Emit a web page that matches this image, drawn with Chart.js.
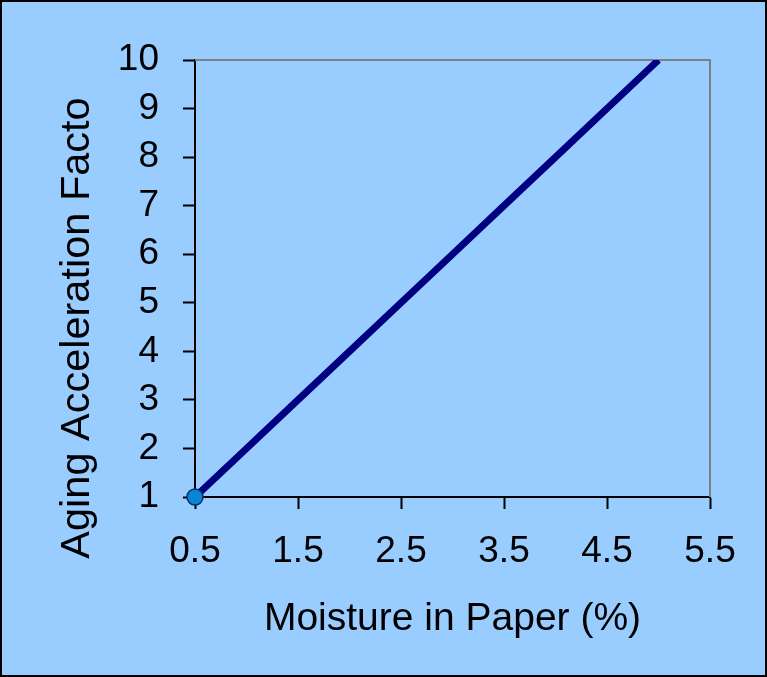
<!DOCTYPE html>
<html>
<head>
<meta charset="utf-8">
<script src="https://cdn.jsdelivr.net/npm/chart.js@4"></script>
<style>
  html, body { margin: 0; padding: 0; background: #99ccff; }
  #wrap {
    width: 767px; height: 677px; box-sizing: border-box;
    border: 2px solid #000; background: #99ccff; position: relative;
  }
  canvas { display: block; }
</style>
</head>
<body>
<div id="wrap"><canvas id="chart" width="763" height="673"></canvas></div>
<script>
const moisture = [0.5, 1, 1.5, 2, 2.5, 3, 3.5, 4, 4.5, 5]
const agingFactor = [1, 2, 3, 4, 5, 6, 7, 8, 9, 10]
const xTitle = 'Moisture in Paper (%)'
const yTitle = 'Aging Acceleration Facto'

const FONT = '"Liberation Sans", Arial, sans-serif'

// only the first sample gets a marker
const markerSizes = moisture.map((_, i) => (i === 0 ? 8 : 0))

const frameAndTitle = {
  id: 'frameAndTitle',
  beforeDatasetsDraw(chart) {
    const { ctx, chartArea } = chart
    ctx.save()
    ctx.strokeStyle = '#808080'
    ctx.lineWidth = 2
    ctx.beginPath()
    ctx.moveTo(chartArea.left, chartArea.top)
    ctx.lineTo(chartArea.right, chartArea.top)
    ctx.lineTo(chartArea.right, chartArea.bottom)
    ctx.stroke()
    ctx.restore()
  },
  afterDraw(chart) {
    const { ctx } = chart
    ctx.save()
    ctx.translate(76, 326)
    ctx.rotate(-Math.PI / 2)
    ctx.font = `41.5px ${FONT}`
    ctx.fillStyle = '#000'
    ctx.textAlign = 'center'
    ctx.textBaseline = 'middle'
    ctx.fillText(yTitle, 0, 0)
    ctx.restore()
  },
}

const ctx = document.getElementById('chart').getContext('2d')
new Chart(ctx, {
  type: 'scatter',
  data: {
    datasets: [
      {
        data: moisture.map((x, i) => ({ x, y: agingFactor[i] })),
        showLine: true,
        clip: { left: 12, bottom: 12, top: 0, right: 0 },
        borderColor: '#000080',
        borderWidth: 7,
        pointRadius: markerSizes,
        pointHoverRadius: markerSizes,
        pointBackgroundColor: '#0a84d4',
        pointBorderColor: '#00306a',
        pointBorderWidth: 1.5,
        tension: 0,
      },
    ],
  },
  options: {
    responsive: false,
    animation: false,
    layout: { padding: { top: 58, right: 55, left: 0, bottom: 0 } },
    plugins: {
      legend: { display: false },
      tooltip: { enabled: false },
    },
    scales: {
      x: {
        type: 'linear',
        min: 0.5,
        max: 5.5,
        ticks: {
          stepSize: 1,
          color: '#000',
          padding: 21,
          font: { family: FONT, size: 37 },
          maxRotation: 0,
          callback: (v) => v.toFixed(1),
        },
        grid: {
          drawOnChartArea: false,
          drawTicks: true,
          tickLength: 12,
          tickColor: '#000',
          tickWidth: 2,
        },
        border: { color: '#000', width: 2 },
        title: {
          display: true,
          text: xTitle,
          color: '#000',
          font: { family: FONT, size: 39, lineHeight: 1 },
          padding: { top: 0, bottom: 36 },
        },
        afterFit(scale) { scale.height = 178 },
      },
      y: {
        type: 'linear',
        min: 1,
        max: 10,
        ticks: {
          stepSize: 1,
          color: '#000',
          padding: 24,
          font: { family: FONT, size: 37 },
        },
        grid: {
          drawOnChartArea: false,
          drawTicks: true,
          tickLength: 12,
          tickColor: '#000',
          tickWidth: 2,
        },
        border: { color: '#000', width: 2 },
        afterFit(scale) { scale.width = 193 },
      },
    },
  },
  plugins: [frameAndTitle],
})
</script>
</body>
</html>
